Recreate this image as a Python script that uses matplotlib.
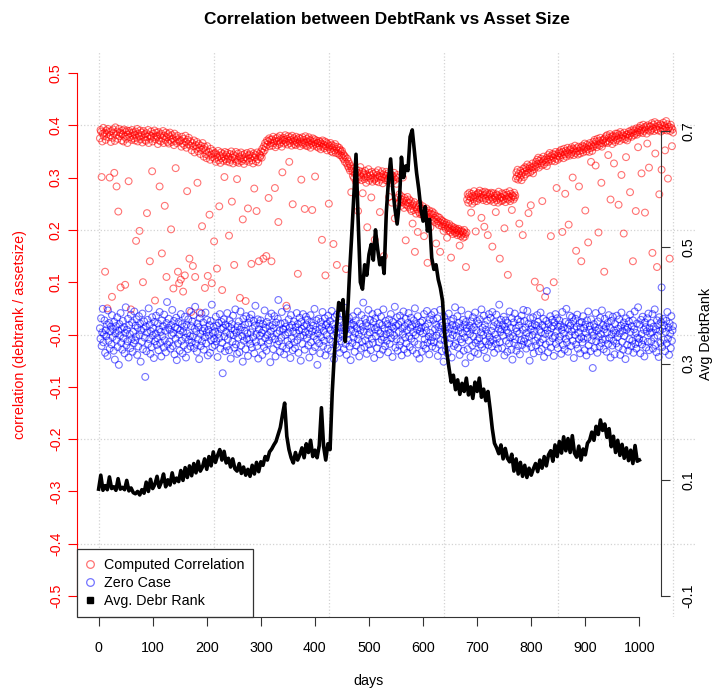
import matplotlib.pyplot as plt
from matplotlib.lines import Line2D
import numpy as np

# correlation debtrank vs asset size per day (x1000)
corr_milli = [
    375, 391, 388, 301, 369, 384, 395, 379, 386, 120, 372, 390, 383, 50, 393, 377, 387, 300, 381, 368,
    389, 72, 376, 392, 385, 309, 370, 396, 381, 283, 388, 374, 235, 393, 379, 386, 90, 384, 371, 390,
    383, 369, 392, 378, 95, 387, 374, 390, 366, 382, 293, 389, 377, 385, 48, 372, 391, 380, 386, 375,
    382, 371, 388, 179, 376, 393, 369, 384, 379, 198, 390, 373, 386, 381, 367, 100, 389, 377, 383, 372,
    370, 385, 232, 378, 391, 366, 381, 140, 374, 388, 379, 312, 369, 384, 377, 390, 65, 373, 386, 380,
    378, 364, 387, 371, 283, 381, 369, 384, 155, 375, 389, 366, 380, 246, 372, 386, 110, 377, 368, 383,
    365, 379, 386, 372, 201, 368, 381, 374, 88, 362, 384, 370, 318, 377, 366, 380, 120, 373, 98, 369,
    371, 105, 359, 378, 365, 82, 374, 362, 113, 380, 368, 357, 274, 372, 364, 376, 145, 361, 369, 43,
    352, 366, 131, 360, 371, 348, 110, 362, 355, 368, 290, 350, 364, 357, 42, 345, 361, 353, 207, 366,
    355, 340, 359, 89, 345, 352, 337, 360, 112, 342, 349, 229, 334, 355, 344, 98, 339, 351, 346, 178,
    336, 347, 330, 344, 126, 339, 351, 333, 245, 342, 328, 348, 337, 85, 345, 332, 340, 301, 349, 335,
    343, 331, 347, 336, 340, 189, 329, 345, 334, 350, 254, 338, 327, 344, 133, 341, 335, 349, 330, 297,
    333, 346, 328, 340, 70, 337, 348, 331, 343, 220, 335, 326, 345, 339, 64, 332, 347, 336, 241, 342,
    330, 344, 337, 349, 135, 333, 341, 327, 346, 279, 338, 343, 331, 236, 348, 335, 329, 140, 345, 339,
    342, 350, 338, 355, 348, 145, 360, 352, 366, 358, 150, 371, 363, 369, 261, 375, 360, 372, 366, 140,
    373, 361, 378, 366, 370, 280, 358, 375, 369, 362, 377, 215, 371, 364, 380, 367, 374, 359, 310, 372,
    376, 365, 372, 381, 368, 55, 374, 363, 379, 370, 330, 366, 377, 372, 361, 380, 249, 369, 375, 364,
    371, 362, 378, 367, 373, 116, 365, 376, 369, 360, 374, 296, 367, 377, 363, 372, 366, 240, 379, 361,
    369, 374, 360, 367, 377, 363, 372, 357, 370, 365, 238, 375, 361, 368, 373, 302, 364, 371, 359, 366,
    366, 357, 370, 361, 368, 354, 365, 181, 371, 359, 363, 356, 369, 113, 360, 367, 352, 364, 358, 250,
    361, 354, 366, 350, 362, 357, 348, 173, 360, 352, 364, 347, 355, 133, 359, 346, 351, 357, 343, 353,
    349, 342, 351, 338, 345, 335, 342, 330, 339, 125, 327, 336, 322, 331, 318, 326, 313, 322, 272, 317,
    312, 303, 318, 299, 310, 306, 292, 315, 300, 309, 236, 297, 313, 304, 320, 301, 295, 311, 270, 305,
    308, 297, 313, 300, 290, 306, 205, 302, 316, 294, 309, 298, 304, 262, 311, 292, 300, 307, 296, 181,
    298, 310, 293, 305, 300, 314, 291, 303, 234, 308, 296, 301, 312, 289, 306, 150, 299, 304, 295, 311,
    303, 294, 308, 297, 263, 301, 290, 306, 298, 252, 304, 293, 300, 309, 222, 296, 302, 288, 305, 299,
    262, 251, 268, 255, 259, 246, 264, 253, 300, 257, 242, 261, 249, 180, 256, 247, 263, 252, 244, 258,
    251, 240, 255, 236, 246, 212, 249, 238, 253, 158, 243, 231, 247, 239, 196, 244, 234, 250, 230, 241,
    242, 230, 236, 245, 228, 188, 239, 226, 234, 241, 224, 137, 233, 222, 237, 229, 205, 231, 220, 235,
    229, 218, 232, 223, 215, 227, 174, 220, 212, 225, 216, 209, 223, 158, 214, 219, 207, 217, 211, 198,
    215, 206, 210, 202, 213, 185, 204, 208, 199, 211, 203, 196, 147, 207, 200, 192, 205, 198, 201, 194,
    203, 195, 200, 190, 198, 202, 193, 170, 197, 188, 199, 191, 196, 185, 194, 200, 187, 192, 129, 195,
    258, 268, 252, 264, 271, 256, 262, 233, 269, 250, 265, 259, 274, 254, 263, 197, 267, 255, 261, 270,
    270, 259, 275, 263, 268, 223, 261, 272, 257, 266, 206, 273, 260, 268, 255, 271, 190, 264, 258, 269,
    267, 256, 271, 262, 168, 259, 270, 253, 265, 261, 234, 268, 257, 266, 252, 273, 260, 145, 263, 255,
    262, 270, 256, 268, 259, 203, 265, 253, 271, 260, 267, 114, 258, 263, 274, 255, 269, 261, 238, 266,
    264, 258, 271, 262, 266, 298, 310, 302, 315, 296, 307, 212, 300, 313, 304, 295, 309, 190, 317, 301,
    311, 320, 306, 318, 314, 325, 309, 232, 317, 322, 310, 247, 319, 313, 327, 308, 321, 316, 101, 324,
    330, 321, 334, 326, 338, 319, 332, 89, 327, 336, 323, 255, 331, 340, 325, 334, 72, 329, 337, 322,
    334, 343, 330, 339, 347, 335, 188, 341, 332, 345, 338, 100, 344, 331, 349, 336, 280, 342, 334, 346,
    341, 350, 338, 347, 353, 343, 196, 349, 337, 355, 344, 269, 351, 340, 348, 357, 345, 210, 352, 342,
    354, 345, 358, 349, 300, 355, 343, 352, 361, 347, 160, 356, 350, 344, 359, 283, 351, 346, 357, 140,
    352, 361, 348, 359, 355, 365, 237, 357, 350, 363, 354, 176, 360, 349, 366, 356, 330, 362, 351, 358,
    368, 360, 372, 364, 323, 369, 358, 374, 363, 195, 370, 361, 376, 366, 290, 359, 371, 365, 373, 120,
    375, 367, 379, 370, 381, 366, 343, 376, 369, 383, 258, 373, 378, 364, 380, 371, 327, 377, 368, 384,
    379, 372, 384, 375, 248, 381, 370, 387, 377, 305, 383, 374, 380, 193, 386, 373, 378, 339, 382, 371,
    383, 376, 388, 380, 272, 385, 390, 378, 386, 140, 392, 381, 389, 384, 236, 394, 382, 387, 358, 391,
    395, 386, 399, 390, 308, 393, 385, 401, 389, 396, 233, 392, 398, 384, 365, 400, 391, 319, 397, 388,
    398, 391, 404, 156, 394, 401, 389, 406, 346, 397, 392, 129, 403, 390, 399, 268, 395, 402, 388, 315,
    400, 393, 405, 391, 399, 352, 396, 408, 390, 402, 298, 394, 397, 145, 389, 401, 395, 360, 392, 386,
]

# zero case (shuffled sizes) per day (x1000)
zero_milli = [
    12, -8, 31, -22, 4, 49, -15, 0, 27, -35, 8, -3, 19, -41, 46, -12, 22, -27, 6, 15,
    -19, 37, -5, 10, -31, 24, -48, 2, 16, -10, 33, -24, 7, -58, 20, -2, 41, -16, 11, -29,
    26, -7, 14, -36, 3, 52, -21, 9, -13, 30, -44, 18, 1, -26, 38, -9, 23, -33, 5, -17,
    44, -11, 17, -4, 29, -39, 13, -23, 35, -1, 21, -52, 8, -14, 40, -28, 11, 25, -6, -81,
    15, -32, 4, 28, -18, 50, -9, 19, -37, 6, -24, 33, -2, 12, -45, 24, -13, 2, 36, -20,
    -7, 21, -30, 10, 43, -16, 5, -42, 27, -3, 16, -25, 38, -11, 7, -34, 22, 62, -19, 13,
    30, -14, 9, -27, 18, -1, 47, -22, 3, 26, -38, 14, -8, 32, -49, 11, -17, 24, 0, -31,
    8, 39, -12, 20, -36, 5, -21, 15, 34, -6, -44, 19, 2, -28, 29, -10, 45, -3, -23, 16,
    -15, 25, -4, 37, -26, 11, 53, -18, 6, -33, 21, -9, 14, -47, 31, 1, -22, 40, -13, 7,
    23, -29, 12, -5, 42, -17, 4, 28, -40, 9, -2, 18, -35, 26, -11, 57, -24, 3, 15, -8,
    -20, 6, 34, -13, 17, -43, 1, 22, -7, 39, -27, 10, 24, -16, -74, 13, 29, -4, -32, 19,
    5, -23, 41, -9, 15, -30, 27, 0, -46, 12, 20, -14, 36, -1, -25, 8, 48, -19, 3, -37,
    16, -6, 25, -34, 9, 44, -21, 14, -3, -52, 30, -12, 7, 19, -28, 35, -8, 2, -41, 22,
    -10, 31, -18, 4, 38, -25, 11, -5, 26, -36, 17, 55, -14, 1, -22, 29, -46, 10, 21, -2,
    27, -15, 3, -39, 20, 8, -24, 46, -7, 13, -31, 24, -1, -17, 33, -11, 16, -53, 6, 40,
    -4, 18, -28, 12, 35, -9, -42, 23, 2, -19, 30, 66, -13, 7, -33, 21, -6, 43, -23, 11,
    9, -38, 22, -1, 15, -27, 50, -12, 4, 29, -20, 13, -45, 37, -8, 18, -30, 6, 25, -15,
    -26, 14, 3, 41, -11, 20, -35, 8, 32, -4, -50, 24, 11, -18, 39, -2, 16, -29, 5, 34,
    19, -7, 28, -21, 1, -44, 12, 37, -15, 23, 6, -32, 17, -3, 49, -24, 9, 27, -10, -58,
    2, 30, -17, 10, -36, 24, -5, 15, 43, -22, 7, -12, 31, -40, 18, -1, 21, -27, 36, 13,
    -9, 26, 8, -31, 45, -14, 19, -2, -47, 33, 11, -20, 4, 38, -25, 16, -7, 28, -35, 1,
    23, -13, 40, -4, 14, -28, 7, 51, -18, 10, -39, 25, 2, -11, 32, -23, 17, -49, 9, 20,
    -16, 35, -6, 18, -33, 3, 27, -21, 12, 44, -9, 0, -42, 21, 8, -27, 37, -14, 15, 61,
    6, -24, 30, -11, 22, -37, 16, -1, 47, -19, 4, 28, -30, 13, -8, 39, -16, 24, -45, 10,
    31, -3, 14, -26, 42, 7, -15, 21, -38, 2, 34, -10, 18, -29, 48, -5, 11, -22, 26, 1,
    -12, 20, -34, 9, 29, -18, 3, 39, -7, 15, -43, 24, 12, -2, 53, -25, 17, -9, 33, -31,
    19, 5, -21, 36, -13, 25, -40, 11, 1, 44, -28, 16, -6, 30, -17, 8, -35, 22, 41, -3,
    -24, 13, 32, -8, 18, -30, 4, 27, -14, 50, -1, 20, -37, 9, 35, -19, 14, -46, 6, 23,
    12, -33, 26, 2, -20, 39, -9, 15, -27, 7, 45, -16, 21, -4, -38, 29, 3, -12, 37, -23,
    -5, 28, -15, 43, 10, -26, 19, -2, 31, -41, 14, 5, -19, 47, -10, 22, -32, 17, 1, -52,
    34, -11, 8, -29, 24, 15, -36, 2, 40, -17, 11, -7, 26, -44, 18, -1, 30, -22, 9, 52,
    -18, 16, -3, 35, -25, 7, 22, -39, 13, -9, 46, -15, 3, 28, -31, 19, -6, -55, 24, 12,
    6, -28, 38, -12, 17, 1, -43, 25, 10, -21, 33, -4, 14, -34, 42, -16, 8, 26, -11, -37,
    21, -7, 29, -19, 4, 48, -24, 13, -1, 36, -30, 18, -13, 9, -45, 27, 2, -20, 39, -5,
    -14, 32, 7, -23, 43, -10, 16, -35, 24, 0, -18, 38, -8, 20, -27, 11, 57, -15, 5, 28,
    10, -26, 19, -2, 34, -40, 15, 27, -12, 8, -33, 22, 3, -17, 44, -6, 13, -29, 31, -48,
    -3, 23, -16, 40, -9, 12, -31, 6, 29, -22, 17, 2, -38, 25, -11, 36, -20, 9, 47, -13,
    26, -8, 13, -27, 3, 45, -17, 21, -4, -50, 31, 10, -24, 16, -1, 33, -36, 7, 19, -12,
    -21, 17, 37, -6, 24, -32, 9, -15, 42, 4, -28, 18, -9, 30, -43, 14, 1, -19, 26, 83,
    8, -34, 20, 1, -14, 35, -25, 12, 28, -7, 16, -41, 23, -3, 39, -18, 6, 31, -26, 15,
    -11, 27, -4, 18, -37, 9, 43, -20, 14, 2, -29, 24, -8, 49, -15, 11, -33, 21, -2, 36,
    17, -22, 6, 33, -12, 25, -45, 10, -1, 30, -19, 15, 38, -27, 4, -9, 22, -36, 13, -5,
    24, -15, 35, -8, 12, -30, 19, 3, -40, 27, -6, 44, -21, 9, 16, -32, 29, -11, 5, -64,
    -2, 20, -26, 14, 41, -13, 7, -35, 25, -4, 11, -23, 32, 1, -16, 46, -9, 18, -28, 10,
    30, -10, 15, -33, 4, 22, -18, 37, -7, 13, -44, 26, 0, -21, 34, -12, 8, -38, 20, 3,
    -17, 36, -5, 11, -24, 29, 2, -39, 17, 42, -14, 7, -29, 23, -3, 15, -47, 31, 9, -20,
    13, -31, 25, -9, 38, 5, -22, 16, -12, 27, -35, 10, 44, -18, 3, -27, 21, -6, 52, -15,
    -8, 19, -36, 28, 1, -19, 34, -11, 9, -42, 23, 14, -25, 6, 31, -14, 40, -30, 12, 2,
    22, -13, 4, 39, -27, 15, -6, 48, -20, 10, -34, 27, -2, 18, -43, 33, 7, -16, 24, 90,
    -24, 11, 30, -10, 17, -32, 5, 26, -17, 43, -8, 13, -39, 21, 2, -26, 35, -12, 8, 16,
]

# average debtrank, every 4th day from day 0 (x1000)
debtrank_step = 4
debtrank_milli = [
    84, 108, 82, 90, 83, 105, 85, 88, 82, 102, 84, 87, 83, 99, 81, 86, 78, 76, 80, 74, 83, 77, 96, 80, 101,
    85, 92, 106, 87, 96, 110, 88, 100, 91, 112, 95, 103, 97, 116, 99, 121, 104, 124, 107, 128, 112, 132, 115, 122, 136,
    118, 140, 124, 148, 130, 142, 152, 134, 149, 129, 137, 122, 136, 119, 115, 128, 111, 122, 108, 118, 106, 125, 110, 130, 114,
    131, 125, 140, 134, 148, 153, 160, 166, 178, 190, 212, 232, 175, 152, 138, 129, 147, 134, 143, 155, 138, 162, 147, 168, 140,
    151, 138, 159, 224, 158, 134, 162, 152, 250, 318, 362, 405, 392, 410, 338, 376, 455, 520, 590, 660, 545, 440, 428, 470, 452,
    488, 505, 478, 530, 497, 470, 482, 455, 560, 615, 652, 600, 566, 540, 575, 655, 620, 640, 632, 690, 702, 665, 628, 600, 565,
    545, 570, 528, 548, 482, 462, 470, 445, 430, 408, 350, 318, 292, 268, 280, 255, 272, 247, 266, 252, 275, 246, 260, 240, 268,
    252, 275, 242, 256, 236, 252, 222, 188, 163, 155, 145, 160, 136, 154, 137, 131, 144, 115, 136, 110, 130, 106, 125, 104, 120,
    108, 119, 128, 114, 134, 120, 140, 124, 143, 150, 132, 160, 140, 166, 146, 174, 150, 171, 147, 176, 146, 139, 158, 134, 153,
    143, 163, 168, 182, 168, 192, 178, 203, 185, 196, 173, 188, 157, 175, 147, 168, 142, 161, 137, 155, 133, 151, 128, 159, 132,
    134,
]

corr = np.array(corr_milli) / 1000.0
zero = np.array(zero_milli) / 1000.0
debtrank = np.array(debtrank_milli) / 1000.0
days_corr = np.arange(1, len(corr) + 1)
days_zero = np.arange(1, len(zero) + 1)
days_dr = np.arange(len(debtrank)) * debtrank_step

plt.rcParams['font.family'] = ['Liberation Sans', 'DejaVu Sans']

W, H = 713, 690
fig = plt.figure(figsize=(W / 100, H / 100), dpi=100)


def px_box(l, t, r, b):
    return [l / W, 1 - b / H, (r - l) / W, (b - t) / H]


red = (1, 0, 0, 0.55)
blue = (0, 0, 1, 0.55)
fs = 10.3
tick_len = 6.5

# first plot: correlations
ax1 = fig.add_axes(px_box(77, 52, 696, 617))
n = len(corr)
ax1.set_xlim(1 - 0.04 * (n - 1), n + 0.04 * (n - 1))
ax1.set_ylim(-0.54, 0.54)

for gx in range(0, 1001, 200):
    ax1.axvline(gx, color='lightgray', linestyle=':', linewidth=0.9, zorder=0)
for gy in [-0.4, -0.2, 0.0, 0.2, 0.4]:
    ax1.axhline(gy, color='lightgray', linestyle=':', linewidth=0.9, zorder=0)

ax1.scatter(days_corr, corr, s=24, facecolors='none', edgecolors=[red], linewidths=0.8, zorder=2)
ax1.scatter(days_zero, zero, s=24, facecolors='none', edgecolors=[blue], linewidths=0.8, zorder=2)

for side in ['top', 'right', 'bottom']:
    ax1.spines[side].set_visible(False)
ax1.spines['left'].set_color('red')
ax1.spines['left'].set_bounds(-0.5, 0.5)
ax1.set_xticks([])
yt = np.round(np.arange(-0.5, 0.51, 0.1), 1)
ax1.set_yticks(yt)
ax1.set_yticklabels([f'{v:.1f}' for v in yt])
ax1.tick_params(axis='y', colors='red', length=tick_len, width=0.8, labelsize=fs, pad=3.6, labelrotation=90)
for lab in ax1.get_yticklabels():
    lab.set_va('center')

handles = [
    Line2D([], [], marker='o', linestyle='', markerfacecolor='none', markeredgecolor=red, markersize=5.5, markeredgewidth=0.9),
    Line2D([], [], marker='o', linestyle='', markerfacecolor='none', markeredgecolor=blue, markersize=5.5, markeredgewidth=0.9),
    Line2D([], [], marker='s', linestyle='', color='black', markersize=5),
]
leg = ax1.legend(handles, ['Computed Correlation', 'Zero Case', 'Avg. Debr Rank'],
                 loc='lower left', bbox_to_anchor=(0, 0), borderaxespad=0, fontsize=fs,
                 fancybox=False, framealpha=1, edgecolor='#333333', borderpad=0.6,
                 labelspacing=0.3, handlelength=0.6, handletextpad=0.7)
leg.get_frame().set_linewidth(0.9)

# second plot: average debtrank on its own scale
ax2 = fig.add_axes(px_box(77, 52, 661, 617))
ax2.patch.set_visible(False)
ax2.set_xlim(-40, 1040)
ax2.set_ylim(-0.1 - 0.036, 0.8 + 0.036)
ax2.plot(days_dr, debtrank, color='black', linewidth=2.6, solid_joinstyle='round', zorder=3)

ax2.spines['top'].set_visible(False)
ax2.spines['left'].set_visible(False)
ax2.spines['right'].set_bounds(-0.1, 0.7)
ax2.spines['bottom'].set_bounds(0, 1000)
for side in ['right', 'bottom']:
    ax2.spines[side].set_color('#333333')
    ax2.spines[side].set_linewidth(0.8)
ax2.yaxis.tick_right()
rt = [-0.1, 0.1, 0.3, 0.5, 0.7]
ax2.set_yticks(rt)
ax2.set_yticklabels([f'{v:.1f}' for v in rt])
ax2.tick_params(axis='y', colors='#333333', labelcolor='black', length=tick_len, width=0.8,
                labelsize=fs, pad=8, labelrotation=90)
for lab in ax2.get_yticklabels():
    lab.set_va('center')
ax2.set_xticks(range(0, 1001, 100))
ax2.tick_params(axis='x', colors='#333333', labelcolor='black', length=tick_len, width=0.8,
                labelsize=fs, pad=10.5)

fig.text(387 / W, 1 - 24 / H, 'Correlation between DebtRank vs Asset Size', ha='center', va='baseline',
         fontsize=12.4, fontweight='bold')
fig.text(20 / W, 1 - 334.5 / H, 'correlation (debtrank / assetsize)', rotation=90, ha='center', va='center',
         color='red', fontsize=fs)
fig.text(706 / W, 1 - 333.5 / H, 'Avg DebtRank', rotation=90, ha='center', va='center', fontsize=fs)
fig.text(369 / W, 1 - 685.5 / H, 'days', ha='center', va='baseline', fontsize=fs)

fig.savefig('out.png', dpi=100)
